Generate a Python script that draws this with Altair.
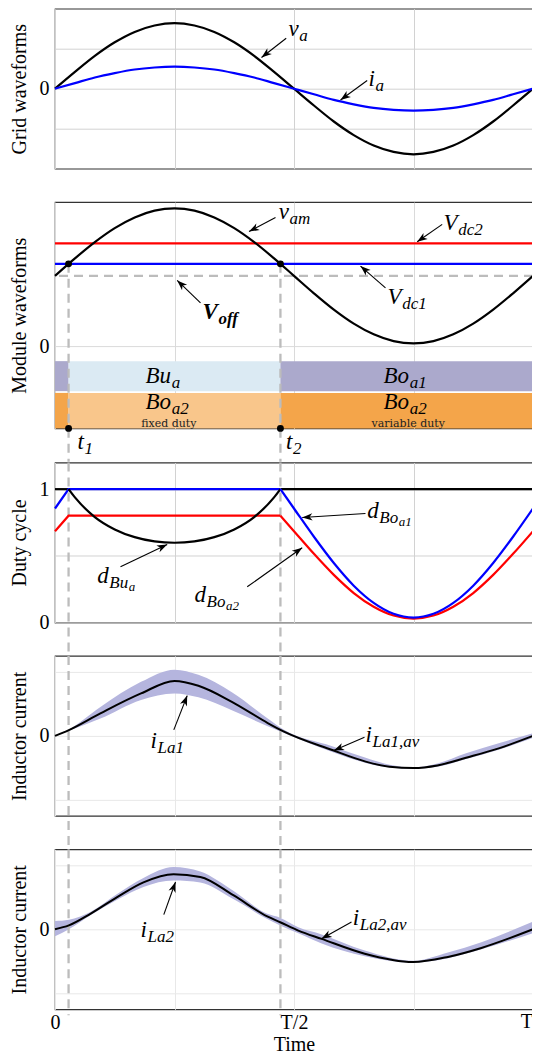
import math
import altair as alt
import pandas as pd

# ------------------------------------------------------------------
# Values (time in periods, T = 1)
# ------------------------------------------------------------------
T_GRID = [0.0, 0.0417, 0.0833, 0.125, 0.1667, 0.2083, 0.25, 0.2917, 0.3333,
          0.375, 0.4167, 0.4583, 0.5, 0.5417, 0.5833, 0.625, 0.6667, 0.7083,
          0.75, 0.7917, 0.8333, 0.875, 0.9167, 0.9583, 1.0]

# panel 1 : grid waveforms
V_A = [0.0, 0.42, 0.82, 1.16, 1.42, 1.58, 1.64, 1.58, 1.42, 1.16, 0.82, 0.42, 0.0,
       -0.42, -0.82, -1.16, -1.42, -1.58, -1.64, -1.58, -1.42, -1.16, -0.82, -0.42, 0.0]
I_A = [0.0, 0.14, 0.28, 0.39, 0.48, 0.53, 0.55, 0.53, 0.48, 0.39, 0.28, 0.14, 0.0,
       -0.14, -0.28, -0.39, -0.48, -0.53, -0.55, -0.53, -0.48, -0.39, -0.28, -0.14, 0.0]

# panel 2 : module waveforms
V_AM = [0.489, 0.610, 0.723, 0.820, 0.894, 0.941, 0.957, 0.941, 0.894, 0.820, 0.723,
        0.610, 0.489, 0.368, 0.255, 0.158, 0.084, 0.037, 0.021, 0.037, 0.084, 0.158,
        0.255, 0.368, 0.489]
V_DC2 = 0.714
V_DC1 = 0.572
V_OFF = 0.489
T1 = 0.0284
T2 = 0.4716

BAND_START = [0.0, T1, T2, 0.0, T1, T2]
BAND_END = [T1, T2, 1.0, T1, T2, 1.0]
BAND_ROW = ["upper", "upper", "upper", "lower", "lower", "lower"]
BAND_MODE = ["Bo_a1", "Bu_a", "Bo_a1", "Bo_a2 variable", "Bo_a2 fixed", "Bo_a2 variable"]

# panel 3 : duty cycles
D_BU_T = [T1, 0.0417, 0.0833, 0.125, 0.1667, 0.2083, 0.25, 0.2917, 0.3333, 0.375,
          0.4167, 0.4583, T2]
D_BU = [1.0, 0.938, 0.791, 0.698, 0.640, 0.608, 0.598, 0.608, 0.640, 0.698, 0.791,
        0.938, 1.0]
D_BU_FLAT_T = [0.0, T1, T2, 1.0]
D_BU_FLAT = [1.0, 1.0, 1.0, 1.0]
D_EDGE_T = [0.0, T1, T2]
D_BO1_EDGE = [0.855, 1.0, 1.0]
D_BO2_EDGE = [0.685, 0.801, 0.801]
D_FALL_T = [T2, 0.5, 0.5417, 0.5833, 0.625, 0.6667, 0.7083, 0.75, 0.7917, 0.8333,
            0.875, 0.9167, 0.9583, 1.0]
D_BO1_FALL = [1.0, 0.855, 0.643, 0.446, 0.276, 0.147, 0.065, 0.037, 0.065, 0.147,
              0.276, 0.446, 0.643, 0.855]
D_BO2_FALL = [0.801, 0.685, 0.515, 0.357, 0.221, 0.118, 0.052, 0.029, 0.052, 0.118,
              0.221, 0.357, 0.515, 0.685]

# panels 4 and 5 : inductor currents (average and ripple envelope)
LA1_T = [0.0, 0.029, 0.095, 0.18, 0.25, 0.30, 0.37, 0.445, 0.478, 0.58, 0.65, 0.70,
         0.75, 0.80, 0.86, 0.93, 1.0]
LA1_AV = [0.0, 0.09, 0.35, 0.66, 0.855, 0.78, 0.53, 0.20, 0.07, -0.22, -0.40, -0.48,
          -0.50, -0.46, -0.34, -0.19, 0.0]
LA1_HI = [0.0, 0.10, 0.45, 0.84, 1.03, 0.95, 0.68, 0.27, 0.10, -0.16, -0.34, -0.45,
          -0.49, -0.43, -0.27, -0.11, 0.04]
LA1_LO = [0.0, 0.08, 0.27, 0.56, 0.66, 0.60, 0.40, 0.15, 0.05, -0.25, -0.42, -0.49,
          -0.51, -0.48, -0.36, -0.21, -0.03]

LA2_T = [0.0, 0.029, 0.074, 0.13, 0.185, 0.248, 0.304, 0.373, 0.444, 0.471, 0.509,
         0.558, 0.648, 0.749, 0.822, 0.892, 1.0]
LA2_AV = [0.0, 0.06, 0.24, 0.50, 0.73, 0.857, 0.815, 0.53, 0.20, 0.11, -0.02, -0.15,
          -0.38, -0.51, -0.43, -0.29, 0.0]
LA2_HI = [0.13, 0.15, 0.27, 0.55, 0.80, 0.97, 0.90, 0.60, 0.24, 0.18, 0.03, -0.08,
          -0.33, -0.49, -0.36, -0.20, 0.12]
LA2_LO = [-0.11, 0.0, 0.22, 0.46, 0.66, 0.76, 0.73, 0.47, 0.16, 0.06, -0.06, -0.22,
          -0.42, -0.52, -0.45, -0.31, -0.06]

X_TICK_LABELS = ["0", "T/2", "T"]

# ------------------------------------------------------------------
# Layout / style
# ------------------------------------------------------------------
FONT = "Liberation Serif"
W = 478
PANEL_H = [160, 226.3, 160, 160, 160]
GAP = 33.4
Y_DOM = [(-2.0, 2.0), (-0.568, 1.0), (0.0, 1.2), (-1.244, 1.244), (-1.245, 1.245)]
Y_TICKS = [[-1, 0, 1], [0], [0, 0.5, 1], [-1, 0, 1], [-1, 0, 1]]
Y_TITLES = ["Grid waveforms", "Module waveforms", "Duty cycle",
            "Inductor current", "Inductor current"]
GRID_COL = ["#d2d2d2", "#dadada", "#d2d2d2", "#e8e8e8", "#e8e8e8"]
DASH_COL = "#bcbcbc"

# annotation placement, in reference-picture pixels (left, baseline)
REF_LEFT = 54.5
REF_TOP = [7.7, 201.0, 460.7, 654.3, 847.3]
MATH = [
    (0, 288.0, 35.0, [("v", 0), ("a", 1)], False),
    (0, 368.0, 85.0, [("i", 0), ("a", 1)], False),
    (1, 278.3, 218.3, [("v", 0), ("am", 1)], False),
    (1, 443.0, 229.3, [("V", 0), ("dc2", 1)], False),
    (1, 387.0, 303.3, [("V", 0), ("dc1", 1)], False),
    (1, 202.0, 318.3, [("V", 0), ("off", 1)], True),
    (1, 145.0, 382.0, [("Bu", 0), ("a", 1)], False),
    (1, 383.0, 381.7, [("Bo", 0), ("a1", 1)], False),
    (1, 145.0, 407.5, [("Bo", 0), ("a2", 1)], False),
    (1, 383.0, 407.5, [("Bo", 0), ("a2", 1)], False),
    (1, 77.0, 448.3, [("t", 0), ("1", 1)], False),
    (1, 285.5, 447.7, [("t", 0), ("2", 1)], False),
    (2, 96.7, 581.7, [("d", 0), ("Bu", 1), ("a", 2)], False),
    (2, 194.0, 600.7, [("d", 0), ("Bo", 1), ("a2", 2)], False),
    (2, 366.7, 516.7, [("d", 0), ("Bo", 1), ("a1", 2)], False),
    (3, 150.0, 746.7, [("i", 0), ("La1", 1)], False),
    (3, 365.0, 740.0, [("i", 0), ("La1,av", 1)], False),
    (4, 140.0, 935.0, [("i", 0), ("La2", 1)], False),
    (4, 352.3, 923.3, [("i", 0), ("La2,av", 1)], False),
]
SMALL_TEXT = [
    (1, 168.3, 425.5, "fixed duty"),
    (1, 407.7, 425.5, "variable duty"),
]
ARROWS = [
    (0, 285.7, 37.3, 261.0, 56.5),
    (0, 366.7, 79.5, 340.0, 99.0),
    (1, 275.0, 216.5, 248.5, 230.5),
    (1, 441.7, 223.3, 416.7, 240.7),
    (1, 385.0, 286.7, 360.0, 265.0),
    (1, 200.0, 301.7, 176.7, 279.3),
    (2, 120.0, 565.0, 166.7, 542.7),
    (2, 246.7, 585.0, 301.7, 546.0),
    (2, 365.0, 511.7, 301.7, 515.7),
    (3, 173.3, 728.3, 186.7, 694.0),
    (3, 364.0, 735.7, 333.3, 749.0),
    (4, 163.3, 912.7, 175.0, 880.0),
    (4, 351.0, 920.0, 321.0, 936.7),
]
LEVEL_SIZE = [23, 17, 13]
LEVEL_DROP = [0.0, 5.0, 8.0]
ITALIC_W = {"v": .444, "a": .5, "i": .278, "m": .722, "V": .611, "d": .5, "c": .444,
            "1": .5, "2": .5, "B": .611, "u": .5, "o": .5, "f": .278, "t": .278,
            "L": .556, ",": .25}
BOLDIT_W = {"V": .667, "o": .5, "f": .333}
ARROW_PATH = "M0,0 L0.36,1 L0,0.72 L-0.36,1 Z"


def text_width(txt, fs, bold):
    table = BOLDIT_W if bold else ITALIC_W
    return sum(table.get(ch, 0.5) for ch in txt) * fs


def to_data(p, px, py):
    y0, y1 = Y_DOM[p]
    return (px - REF_LEFT) / W, y1 - (py - REF_TOP[p]) / PANEL_H[p] * (y1 - y0)


def X(p, field="t"):
    last = p == 4
    ax = dict(values=[0, 0.25, 0.5, 0.75, 1], grid=True, gridColor=GRID_COL[p],
              gridWidth=1, ticks=False, domain=False, labels=last, labelFlush=False,
              title="Time" if last else "", labelOverlap=False)
    if last:
        ax.update(
            labelExpr=f"datum.value == 0 ? '{X_TICK_LABELS[0]}' : datum.value == 0.5 ? '{X_TICK_LABELS[1]}' : ''",
            labelPadding=3, titlePadding=2)
    return alt.X(f"{field}:Q", scale=alt.Scale(domain=[0, 1], nice=False, zero=False),
                 axis=alt.Axis(**ax))


def Y(p, field="v"):
    y0, y1 = Y_DOM[p]
    expr = ("datum.value == 0 ? '0' : datum.value == 1 ? '1' : ''" if p == 2
            else "datum.value == 0 ? '0' : ''")
    ax = dict(values=Y_TICKS[p], grid=True, gridColor=GRID_COL[p], gridWidth=1,
              ticks=False, domain=False, title=Y_TITLES[p], labelExpr=expr,
              labelPadding=6, titlePadding=10, labelOverlap=False, labelFlush=False)
    return alt.Y(f"{field}:Q", scale=alt.Scale(domain=[y0, y1], nice=False, zero=False),
                 axis=alt.Axis(**ax))


def annotations(p):
    layers = []
    rows = {False: [], True: []}
    for (pp, x0, base, parts, bold) in MATH:
        if pp != p:
            continue
        x = x0
        for txt, lvl in parts:
            fs = LEVEL_SIZE[lvl]
            t, v = to_data(p, x, base + LEVEL_DROP[lvl])
            rows[bold].append({"t": t, "v": v, "txt": txt, "fs": fs})
            x += text_width(txt, fs, bold) + 0.6
    for bold, rr in rows.items():
        if not rr:
            continue
        layers.append(
            alt.Chart(pd.DataFrame(rr)).mark_text(
                font=FONT, fontStyle="italic", fontWeight="bold" if bold else "normal",
                align="left", baseline="alphabetic", color="black"
            ).encode(x=X(p), y=Y(p), text="txt:N",
                     size=alt.Size("fs:Q", scale=None))
        )
    small = []
    for (pp, xc, base, txt) in SMALL_TEXT:
        if pp == p:
            t, v = to_data(p, xc, base)
            small.append({"t": t, "v": v, "txt": txt})
    if small:
        layers.append(
            alt.Chart(pd.DataFrame(small)).mark_text(
                font="DejaVu Serif", fontSize=11, align="center", baseline="alphabetic",
                color="#222222"
            ).encode(x=X(p), y=Y(p), text="txt:N")
        )
    arr = []
    for (pp, xa, ya, xb, yb) in ARROWS:
        if pp != p:
            continue
        ta, va = to_data(p, xa, ya)
        tb, vb = to_data(p, xb, yb)
        ang = math.degrees(math.atan2(xb - xa, -(yb - ya))) % 360
        arr.append({"t": ta, "v": va, "tb": tb, "vb": vb, "ang": ang})
    if arr:
        adf = pd.DataFrame(arr)
        layers.append(
            alt.Chart(adf).mark_rule(color="black", strokeWidth=1.1).encode(
                x=X(p), y=Y(p), x2=alt.X2("tb"), y2=alt.Y2("vb"))
        )
        layers.append(
            alt.Chart(adf).mark_point(shape=ARROW_PATH, filled=True, color="black",
                                      size=420, opacity=1, strokeWidth=0).encode(
                x=X(p, "tb"), y=Y(p, "vb"), angle=alt.Angle("ang:Q", scale=None))
        )
    return layers


def dashed_verticals(p, top, extend_px):
    y0, y1 = Y_DOM[p]
    bottom = y0 - extend_px / PANEL_H[p] * (y1 - y0)
    df = pd.DataFrame({"t": [T1, T2], "ya": [top, top], "yb": [bottom, bottom]})
    return alt.Chart(df).mark_rule(color=DASH_COL, strokeWidth=2.3, strokeDash=[9, 6],
                                   clip=False).encode(
        x=X(p), y=Y(p, "ya"), y2=alt.Y2("yb"))


# ---------------- panel 1 ----------------
n = len(T_GRID)
df1 = pd.DataFrame({"t": T_GRID + T_GRID, "v": V_A + I_A, "s": ["v_a"] * n + ["i_a"] * n})
p1 = alt.layer(
    alt.Chart(df1).mark_line(strokeWidth=2.2, interpolate="monotone").encode(
        x=X(0), y=Y(0),
        color=alt.Color("s:N", scale=alt.Scale(domain=["v_a", "i_a"],
                                               range=["#000000", "#0000ff"]), legend=None)),
    *annotations(0)
).properties(width=W, height=PANEL_H[0])

# ---------------- panel 2 ----------------
BAND_Y = {"upper": (-0.102, -0.310), "lower": (-0.322, -0.568)}
bands = pd.DataFrame({
    "t": BAND_START, "t_end": BAND_END,
    "v": [BAND_Y[r][0] for r in BAND_ROW], "v_end": [BAND_Y[r][1] for r in BAND_ROW],
    "mode": BAND_MODE,
})
dots = pd.DataFrame({"t": [T1, T2, T1, T2],
                     "v": [V_DC1, V_DC1, Y_DOM[1][0], Y_DOM[1][0]]})
p2 = alt.layer(
    alt.Chart(bands).mark_rect().encode(
        x=X(1), x2=alt.X2("t_end"), y=Y(1), y2=alt.Y2("v_end"),
        color=alt.Color("mode:N", legend=None, scale=alt.Scale(
            domain=["Bo_a1", "Bu_a", "Bo_a2 variable", "Bo_a2 fixed"],
            range=["#aba9cc", "#dbeaf3", "#f4a54a", "#f9c68b"]))),
    alt.Chart(pd.DataFrame({"v": [V_OFF]})).mark_rule(
        color=DASH_COL, strokeWidth=2.2, strokeDash=[9, 6]).encode(y=Y(1)),
    dashed_verticals(1, V_DC1, GAP),
    alt.Chart(pd.DataFrame({"v": [V_DC1]})).mark_rule(color="#0000ff", strokeWidth=2.2).encode(y=Y(1)),
    alt.Chart(pd.DataFrame({"v": [V_DC2]})).mark_rule(color="#ff0000", strokeWidth=2.2).encode(y=Y(1)),
    alt.Chart(pd.DataFrame({"t": T_GRID, "v": V_AM})).mark_line(
        color="black", strokeWidth=2.2, interpolate="monotone").encode(x=X(1), y=Y(1)),
    alt.Chart(dots).mark_point(filled=True, color="black", size=48, opacity=1, clip=False).encode(
        x=X(1), y=Y(1)),
    *annotations(1)
).properties(width=W, height=PANEL_H[1])

# ---------------- panel 3 ----------------
DUTY_SCALE = alt.Scale(domain=["d_Bu", "d_Bo1", "d_Bo2"], range=["#000000", "#0000ff", "#ff0000"])
lin_rows = (
    [{"t": t, "v": v, "s": "d_Bu", "seg": "bu_a"} for t, v in zip(D_BU_FLAT_T[:2], D_BU_FLAT[:2])]
    + [{"t": t, "v": v, "s": "d_Bu", "seg": "bu_b"} for t, v in zip(D_BU_FLAT_T[2:], D_BU_FLAT[2:])]
    + [{"t": t, "v": v, "s": "d_Bo2", "seg": "bo2"} for t, v in zip(D_EDGE_T, D_BO2_EDGE)]
    + [{"t": t, "v": v, "s": "d_Bo1", "seg": "bo1"} for t, v in zip(D_EDGE_T, D_BO1_EDGE)]
)
mono_rows = (
    [{"t": t, "v": v, "s": "d_Bu", "seg": "bu_c"} for t, v in zip(D_BU_T, D_BU)]
    + [{"t": t, "v": v, "s": "d_Bo2", "seg": "bo2f"} for t, v in zip(D_FALL_T, D_BO2_FALL)]
    + [{"t": t, "v": v, "s": "d_Bo1", "seg": "bo1f"} for t, v in zip(D_FALL_T, D_BO1_FALL)]
)
p3 = alt.layer(
    dashed_verticals(2, Y_DOM[2][1], GAP),
    alt.Chart(pd.DataFrame(lin_rows)).mark_line(strokeWidth=2.2).encode(
        x=X(2), y=Y(2), color=alt.Color("s:N", scale=DUTY_SCALE, legend=None),
        detail="seg:N", order=alt.Order("t:Q")),
    alt.Chart(pd.DataFrame(mono_rows)).mark_line(strokeWidth=2.2, interpolate="monotone").encode(
        x=X(2), y=Y(2), color=alt.Color("s:N", scale=DUTY_SCALE, legend=None),
        detail="seg:N", order=alt.Order("t:Q")),
    *annotations(2)
).properties(width=W, height=PANEL_H[2])


# ---------------- panels 4 and 5 ----------------
def current_panel(p, ts, av, hi, lo, extend_px, extra=()):
    df = pd.DataFrame({"t": ts, "v": av, "hi": hi, "lo": lo})
    return alt.layer(
        alt.Chart(df).mark_area(color="#b5b5de", opacity=1, interpolate="monotone").encode(
            x=X(p), y=Y(p, "lo"), y2=alt.Y2("hi")),
        dashed_verticals(p, Y_DOM[p][1], extend_px),
        alt.Chart(df).mark_line(color="black", strokeWidth=2.0, interpolate="monotone").encode(
            x=X(p), y=Y(p)),
        *annotations(p),
        *extra
    ).properties(width=W, height=PANEL_H[p])


# last time label "T" sits flush with the right edge
t_end_label = alt.Chart(pd.DataFrame({"t": [1.0], "v": [Y_DOM[4][0]], "txt": [X_TICK_LABELS[2]]})).mark_text(
    font=FONT, fontSize=20, align="right", baseline="top", dy=3, color="black", clip=False
).encode(x=X(4), y=Y(4), text="txt:N")

p4 = current_panel(3, LA1_T, LA1_AV, LA1_HI, LA1_LO, GAP)
p5 = current_panel(4, LA2_T, LA2_AV, LA2_HI, LA2_LO, 6, extra=[t_end_label])

chart = alt.vconcat(p1, p2, p3, p4, p5, spacing=GAP, bounds="flush").resolve_scale(
    color="independent"
).properties(
    padding={"left": 8, "top": 7.7, "right": -6.5, "bottom": -2},
    background="white"
).configure_view(
    stroke="#333333", strokeWidth=1.2, fill="white"
).configure_axis(
    labelFont=FONT, titleFont=FONT, labelFontSize=20, titleFontSize=20,
    labelColor="black", titleColor="black", titleFontWeight="normal"
)

chart.save("out.html", embed_options={"renderer": "svg", "actions": False})
